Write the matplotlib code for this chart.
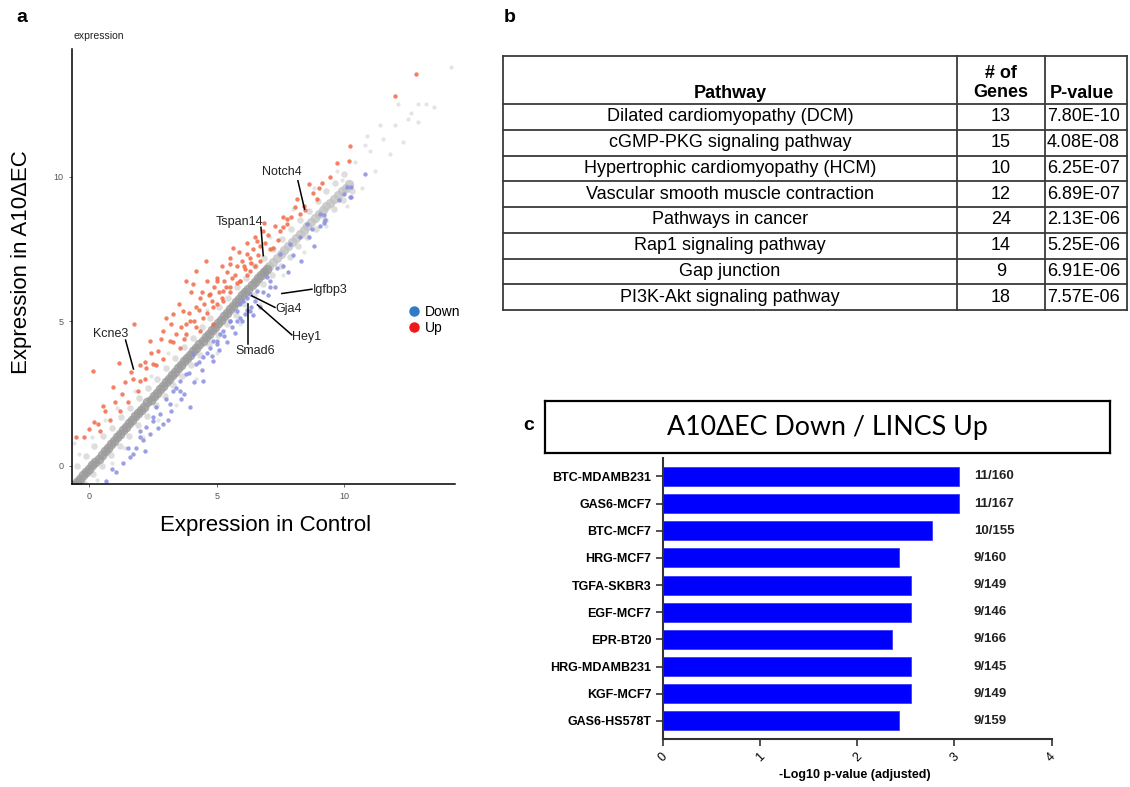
import matplotlib
matplotlib.use("Agg")
import matplotlib.pyplot as plt
import numpy as np
from matplotlib.lines import Line2D

plt.rcParams['font.family'] = ['Liberation Sans', 'DejaVu Sans']

W, H = 1130, 787

# ---------------- panel a : expression scatter ----------------
# dense dark core of the cloud
core_x = [-0.6, -0.48, -0.36, -0.24, -0.12, 0.0, 0.12, 0.24, 0.36, 0.48, 0.6, 0.72, 0.84, 0.96,
          1.08, 1.2, 1.32, 1.44, 1.56, 1.68, 1.8, 1.92, 2.04, 2.16, 2.28, 2.4, 2.52, 2.64, 2.76,
          2.88, 3.0, 3.12, 3.24, 3.36, 3.48, 3.6, 3.72, 3.84, 3.96, 4.08, 4.2, 4.32, 4.44, 4.56,
          4.68, 4.8, 4.92, 5.04, 5.16, 5.28, 5.4, 5.52, 5.64, 5.76, 5.88, 6.0, 6.12, 6.24, 6.36,
          6.48, 6.6, 6.72, 6.84, 6.96]
core_y = [-0.68, -0.57, -0.47, -0.33, -0.23, -0.1, 0.03, 0.13, 0.25, 0.39, 0.5, 0.61, 0.75, 0.85,
          0.98, 1.09, 1.23, 1.33, 1.47, 1.57, 1.71, 1.81, 1.94, 2.05, 2.19, 2.29, 2.43, 2.53, 2.66,
          2.77, 2.9, 3.02, 3.13, 3.26, 3.37, 3.5, 3.61, 3.74, 3.85, 3.98, 4.09, 4.22, 4.33, 4.46,
          4.57, 4.7, 4.81, 4.94, 5.05, 5.18, 5.29, 5.42, 5.53, 5.66, 5.77, 5.9, 6.01, 6.13, 6.25,
          6.36, 6.48, 6.59, 6.71, 6.82]
# lighter upper part of the core
top_x = [6.9, 7.05, 7.2, 7.35, 7.5, 7.65, 7.8, 7.95, 8.1, 8.25, 8.4, 8.55, 8.7, 8.85, 9.0, 9.15,
         9.3, 9.45, 9.6, 9.75, 9.9, 10.05, 10.2]
top_y = [6.75, 6.9, 7.04, 7.18, 7.32, 7.47, 7.6, 7.75, 7.88, 8.02, 8.16, 8.3, 8.44, 8.57, 8.71,
         8.84, 8.98, 9.1, 9.24, 9.37, 9.5, 9.62, 9.75]
# grey halo either side of the core
band_x = [-0.5, -0.15, 0.2, 0.55, 0.9, 1.25, 1.6, 1.95, 2.3, 2.65, 3.0, 3.35, 3.7, 4.05, 4.4,
          4.75, 5.1, 5.45, 5.8, 6.15, 6.5, 6.85, 7.2, 7.55, 7.9, 8.25, 8.6, 8.95, 9.3, 9.65, 10.0,
          -0.2, 0.15, 0.5, 0.85, 1.2, 1.55, 1.9, 2.25, 2.6, 2.95, 3.3, 3.65, 4.0, 4.35, 4.7,
          5.05, 5.4, 5.75, 6.1, 6.45, 6.8, 7.15, 7.5, 7.85, 8.2, 8.55, 8.9, 9.25, 9.6, 9.95, 10.3]
band_y = [0.0, 0.33, 0.7, 1.02, 1.3, 1.68, 2.0, 2.33, 2.7, 3.02, 3.4, 3.72, 4.1, 4.42, 4.8,
          5.12, 5.5, 5.8, 6.2, 6.5, 6.9, 7.2, 7.5, 7.85, 8.2, 8.5, 8.8, 9.15, 9.5, 9.8, 10.1,
          -0.6, -0.28, 0.0, 0.37, 0.7, 1.02, 1.4, 1.72, 2.1, 2.42, 2.8, 3.12, 3.5, 3.83, 4.2,
          4.52, 4.9, 5.2, 5.6, 5.9, 6.3, 6.6, 6.9, 7.22, 7.6, 7.9, 8.2, 8.5, 8.9, 9.2, 9.5]
# faint scattered genes
faint_x = [-0.6, -0.4, 0.1, 0.3, 0.6, 0.9, 1.1, 1.4, 1.8, 2.1, 2.4, 2.7, 3.1, 3.4, 3.8, 4.2,
           4.6, 5.0, 5.4, 5.9, 6.3, 6.7, 7.1, 7.6, 8.0, 8.4, 8.8, 9.3, 9.7, 10.1, 10.4, 10.7,
           11.0, 11.2, 11.5, 11.8, 12.0, 12.3, 12.6, 12.9, 13.2, 13.5, 14.2, 11.4, 10.8, 9.9,
           12.1, 10.9, 12.5, 12.9]
faint_y = [0.8, 0.4, 1.0, -0.5, 1.6, 0.1, 2.0, 0.6, 2.6, 1.0, 3.1, 1.6, 3.9, 2.1, 4.5, 3.0,
           5.4, 3.9, 6.2, 4.9, 7.0, 5.6, 7.9, 6.6, 8.9, 7.4, 9.6, 8.3, 10.2, 9.0, 10.5, 9.6,
           10.9, 10.2, 11.3, 10.8, 11.8, 11.2, 12.2, 11.9, 12.5, 12.4, 13.8, 11.8, 11.1, 9.9,
           12.5, 11.4, 12.0, 12.5]

up_x = [-0.52, 0.13, 0.0, 0.33, 0.52, 0.92, 1.18, 1.77, 1.64, 1.97, 2.23, 2.69, 2.36, 2.89,
        3.28, 3.41, 3.81, 4.07, 4.2, 4.46, 4.72, 4.85, 5.25, 5.51, 5.78, 3.94, 2.49, 3.15,
        3.54, 4.33, 3.81, 4.2, 4.59, 4.99, 5.51, 5.64, 6.17, 6.56, 6.82, 7.22, 7.48, 7.74,
        6.69, 5.25, 5.91, 4.85, 4.33, 3.67, 6.30, 12.8, 12.0, 10.24, 10.17, 9.71, 9.45, 9.12,
        8.63, 8.79, 8.14, 8.07, 8.46, 8.27, 7.74, 7.61, 8.92, 4.5, 4.7, 4.9, 5.1, 5.3, 5.4,
        5.6, 5.8, 6.0, 6.1, 6.3, 6.4, 6.6, 6.9, 7.0, 7.3, 3.9, 4.1, 3.6, 3.3, 2.9, 2.6, 2.2,
        1.9, 1.5, 1.2, 0.8, 0.4, 5.0, 5.5, 6.2, 4.3, 3.7,
        4.4, 4.6, 4.8, 5.0, 5.2, 5.35, 5.5, 5.7, 5.85, 6.05, 6.2, 6.35, 6.5, 6.7, 6.85, 7.1,
        7.4, 7.6, 3.5, 3.2, 3.0, 2.8, 2.4, 2.0, 1.7, 1.3, 1.0, 0.6, 0.2, -0.2, 4.0, 4.2, 3.8,
        2.2, 1.4, 5.9, 6.5, 7.9, 8.4, 9.0, 4.6, 5.2]
up_y = [0.98, 3.29, 1.28, 1.44, 2.08, 2.71, 3.57, 4.92, 3.23, 2.94, 3.40, 3.98, 4.33, 4.67,
        5.25, 4.56, 4.56, 6.29, 5.48, 5.13, 5.94, 4.9, 5.71, 6.17, 6.34, 5.02, 3.52, 4.33,
        4.09, 4.67, 6.4, 6.75, 7.09, 6.40, 6.98, 7.55, 7.33, 7.79, 8.13, 7.55, 8.13, 8.36,
        7.09, 6.06, 6.40, 5.48, 5.82, 5.36, 6.75, 13.57, 12.8, 11.07, 10.55, 10.46, 9.98, 9.77,
        9.75, 9.43, 9.23, 8.96, 8.85, 8.71, 8.54, 8.27, 9.23, 5.6, 5.9, 6.2, 6.0, 6.4, 6.7,
        6.5, 6.9, 7.1, 6.8, 7.2, 7.5, 7.3, 7.7, 8.0, 8.3, 5.3, 5.0, 4.8, 4.3, 3.7, 3.5, 3.0,
        2.6, 2.2, 1.9, 1.6, 1.2, 5.6, 6.0, 6.6, 5.4, 4.4,
        6.0, 6.4, 5.7, 6.5, 6.9, 6.2, 7.2, 6.6, 7.4, 6.9, 7.7, 7.0, 7.9, 7.6, 8.4, 7.5,
        7.8, 8.6, 5.6, 4.9, 5.1, 4.4, 3.9, 3.5, 3.0, 2.5, 2.2, 1.9, 1.5, 1.0, 6.0, 4.8, 4.9,
        3.6, 2.9, 6.4, 6.9, 8.6, 9.0, 9.6, 5.3, 5.8]

down_x = [1.05, 1.31, 1.7, 1.97, 2.23, 2.49, 2.76, 3.15, 3.28, 3.54, 3.94, 3.81, 4.2, 4.46,
          4.46, 4.72, 4.99, 5.25, 5.51, 5.78, 6.04, 6.3, 4.85, 2.89, 2.36, 1.84, 3.54, 4.07,
          2.63, 0.66, 4.85, 5.51, 5.91, 6.17, 6.56, 6.96, 7.35, 7.48, 7.87, 8.27, 8.53, 9.06,
          10.1, 10.24, 7.09, 6.3, 5.12, 10.83, 10.28, 10.28, 9.97, 9.78, 9.19, 9.25, 9.03, 8.73,
          1.5, 2.0, 2.5, 3.0, 3.4, 3.9, 4.3, 4.6, 5.0, 5.3, 5.6, 5.9, 6.2, 6.5, 6.8, 7.1, 7.6,
          8.0, 8.6, 9.2,
          0.9, 1.6, 2.1, 2.7, 3.2, 3.6, 3.7, 4.1, 4.4, 4.8, 5.1, 5.4, 5.7, 6.0, 6.4, 6.7, 7.0,
          7.3, 7.8, 8.3, 8.8, 6.1, 6.35, 5.8, 3.1, 2.2]
down_y = [-0.23, 0.11, 0.40, 0.98, 1.33, 1.56, 1.79, 2.13, 2.6, 2.94, 2.02, 3.17, 3.52, 3.75,
          2.94, 4.09, 4.33, 4.67, 5.02, 5.36, 5.71, 5.94, 3.63, 1.44, 1.09, 0.63, 2.6, 3.86,
          2.02, -0.52, 4.33, 5.02, 5.6, 5.82, 6.06, 6.52, 6.86, 7.33, 7.67, 7.9, 8.36, 8.71,
          9.63, 9.29, 6.17, 5.36, 4.56, 10.09, 9.63, 9.31, 9.4, 9.2, 8.69, 8.5, 8.28, 8.19,
          0.6, 1.2, 1.7, 2.3, 2.7, 3.2, 3.6, 3.9, 4.2, 4.5, 4.8, 5.1, 5.4, 5.7, 6.0, 6.4, 6.9,
          7.3, 7.9, 8.4,
          -0.1, 0.3, 0.9, 1.3, 1.9, 2.3, 2.5, 2.9, 3.3, 3.8, 4.0, 4.3, 4.6, 5.0, 5.2, 5.5, 5.9,
          6.2, 6.7, 7.1, 7.6, 5.25, 5.5, 5.0, 1.6, 0.5]

genes = ['Notch4', 'Tspan14', 'Igfbp3', 'Gja4', 'Hey1', 'Smad6', 'Kcne3']
gene_pt = [(8.44, 8.88), (6.82, 7.27), (7.55, 5.96), (6.37, 5.88), (6.59, 5.57), (6.23, 5.6), (1.73, 3.35)]
gene_lab = [(8.18, 9.86), (6.73, 8.25), (8.73, 6.11), (7.28, 5.48), (7.94, 4.53), (6.23, 4.21), (1.42, 4.35)]
gene_txt = [(7.55, 10.15, 'center'), (5.88, 8.44, 'center'), (8.75, 6.08, 'left'),
            (7.3, 5.42, 'left'), (7.96, 4.44, 'left'), (6.5, 3.98, 'center'), (0.83, 4.56, 'center')]

# ---------------- panel b : KEGG table ----------------
pathways = ['Dilated cardiomyopathy (DCM)', 'cGMP-PKG signaling pathway',
            'Hypertrophic cardiomyopathy (HCM)', 'Vascular smooth muscle contraction',
            'Pathways in cancer', 'Rap1 signaling pathway', 'Gap junction',
            'PI3K-Akt signaling pathway']
n_genes = [13, 15, 10, 12, 24, 14, 9, 18]
pvals = ['7.80E-10', '4.08E-08', '6.25E-07', '6.89E-07', '2.13E-06', '5.25E-06',
         '6.91E-06', '7.57E-06']

# ---------------- panel c : LINCS bars ----------------
signatures = ['BTC-MDAMB231', 'GAS6-MCF7', 'BTC-MCF7', 'HRG-MCF7', 'TGFA-SKBR3',
              'EGF-MCF7', 'EPR-BT20', 'HRG-MDAMB231', 'KGF-MCF7', 'GAS6-HS578T']
neglog_p = [3.05, 3.05, 2.77, 2.43, 2.55, 2.55, 2.36, 2.55, 2.55, 2.43]
overlap = ['11/160', '11/167', '10/155', '9/160', '9/149', '9/146', '9/166', '9/145',
           '9/149', '9/159']


fig = plt.figure(figsize=(W / 100, H / 100), dpi=100)


def px_axes(l, t, r, b):
    return fig.add_axes([l / W, 1 - b / H, (r - l) / W, (b - t) / H])


# ===== a =====
ax = px_axes(72, 49, 455, 484)
ax.scatter(faint_x, faint_y, s=9, color='#d9d9d9', alpha=0.7, lw=0)
ax.scatter(band_x, band_y, s=22, color='#c9c9c9', alpha=0.6, lw=0)
ax.scatter(top_x, top_y, s=45, color='#c2c2c2', alpha=0.8, lw=0)
ax.scatter(core_x, core_y, s=50, color='#9a9a9a', alpha=0.8, lw=0)
ax.scatter(up_x, up_y, s=10, color='#f26a48', alpha=0.85, lw=0)
ax.scatter(down_x, down_y, s=10, color='#8a8ee0', alpha=0.85, lw=0)
for g, p, q, t in zip(genes, gene_pt, gene_lab, gene_txt):
    ax.plot([p[0], q[0]], [p[1], q[1]], color='black', lw=1.1)
    ax.text(t[0], t[1], g, ha=t[2], va='center', fontsize=9, color='#222222')
ax.set_xlim(-0.68, 14.34)
ax.set_ylim(-0.63, 14.42)
ax.set_xticks([0, 5, 10])
ax.set_yticks([0, 5, 10])
ax.tick_params(labelsize=6.5, colors='#555555', length=2.5, width=0.6)
for s in ['top', 'right']:
    ax.spines[s].set_visible(False)
for s in ['left', 'bottom']:
    ax.spines[s].set_linewidth(1.1)
handles = [Line2D([], [], marker='o', ls='', color='#2f7bc4', markersize=6.5, label='Down'),
           Line2D([], [], marker='o', ls='', color='#f01818', markersize=6.5, label='Up')]
ax.legend(handles=handles, loc='center left', bbox_to_anchor=(0.875, 0.377), frameon=False,
          fontsize=10, handlelength=1.0, handletextpad=0.3, labelspacing=0.15,
          borderpad=0, borderaxespad=0)

fig.text(73 / W, 1 - 36 / H, 'expression', fontsize=7.5, va='center', ha='left', color='#222222')
fig.text(266 / W, 1 - 525 / H, 'Expression in Control', fontsize=16, ha='center', va='center')
fig.text(22 / W, 1 - 262 / H, 'Expression in A10\u0394EC', fontsize=16, rotation=90,
         ha='center', va='center')

# ===== b =====
tb = px_axes(503, 56, 1127, 310)
tb.set_xlim(503, 1127)
tb.set_ylim(310, 56)
tb.axis('off')
rows = [104 + 25.75 * i for i in range(len(pathways) + 1)]
lc = '#3a3a3a'
for yl in [56] + rows:
    tb.plot([503, 1127], [yl, yl], color=lc, lw=1.3, clip_on=False)
for xl in [503, 957, 1045, 1127]:
    tb.plot([xl, xl], [56, rows[-1]], color=lc, lw=1.3, clip_on=False)
tb.text(730, 93, 'Pathway', ha='center', va='center', fontsize=13, fontweight='bold')
tb.text(1001, 83, '# of\nGenes', ha='center', va='center', fontsize=13, fontweight='bold',
        linespacing=1.2)
tb.text(1050, 93, 'P-value', ha='left', va='center', fontsize=13, fontweight='bold')
for i, (pw, n, pv) in enumerate(zip(pathways, n_genes, pvals)):
    yc = (rows[i] + rows[i + 1]) / 2
    tb.text(730, yc, pw, ha='center', va='center', fontsize=13)
    tb.text(1001, yc, str(n), ha='center', va='center', fontsize=13)
    tb.text(1047, yc, pv, ha='left', va='center', fontsize=13)

# ===== c =====
tbox = px_axes(545, 401, 1110, 453)
tbox.set_xticks([])
tbox.set_yticks([])
for s in tbox.spines.values():
    s.set_linewidth(1.6)
tbox.text(0.5, 0.5, 'A10\u0394EC Down / LINCS Up', ha='center', va='center', fontsize=19.3,
          family=['Lato', 'Noto Sans', 'DejaVu Sans'], transform=tbox.transAxes)

axc = px_axes(663, 458, 1051.5, 738.6)
ypos = np.arange(len(signatures))
axc.barh(ypos, neglog_p, height=0.7, color='#0000ff', edgecolor='#3a3aff', lw=0.6)
axc.set_ylim(len(signatures) - 0.35, -0.68)
axc.set_xlim(0, 4)
axc.set_yticks(ypos)
axc.set_yticklabels(signatures, fontsize=9, fontweight='bold')
axc.set_xticks([0, 1, 2, 3, 4])
axc.set_xticklabels(['0', '1', '2', '3', '4'], fontsize=9, rotation=45, ha='center')
axc.tick_params(axis='both', length=5, width=1.2, color='#333333')
for s in ['top', 'right']:
    axc.spines[s].set_visible(False)
for s in ['left', 'bottom']:
    axc.spines[s].set_linewidth(1.5)
    axc.spines[s].set_color('#333333')
for y, lab in zip(ypos, overlap):
    axc.text(3.2, y, lab, ha='left', va='center', fontsize=9.5, fontweight='bold',
             color='#222222')
fig.text(855 / W, 1 - 775 / H, '-Log10 p-value (adjusted)', fontsize=9, fontweight='bold',
         ha='center', va='center')

# panel letters
fig.text(22 / W, 1 - 18 / H, 'a', fontsize=14, fontweight='bold', ha='center', va='center')
fig.text(510 / W, 1 - 18 / H, 'b', fontsize=14, fontweight='bold', ha='center', va='center')
fig.text(529 / W, 1 - 425 / H, 'c', fontsize=14, fontweight='bold', ha='center', va='center')

fig.savefig('out.png', dpi=100)
